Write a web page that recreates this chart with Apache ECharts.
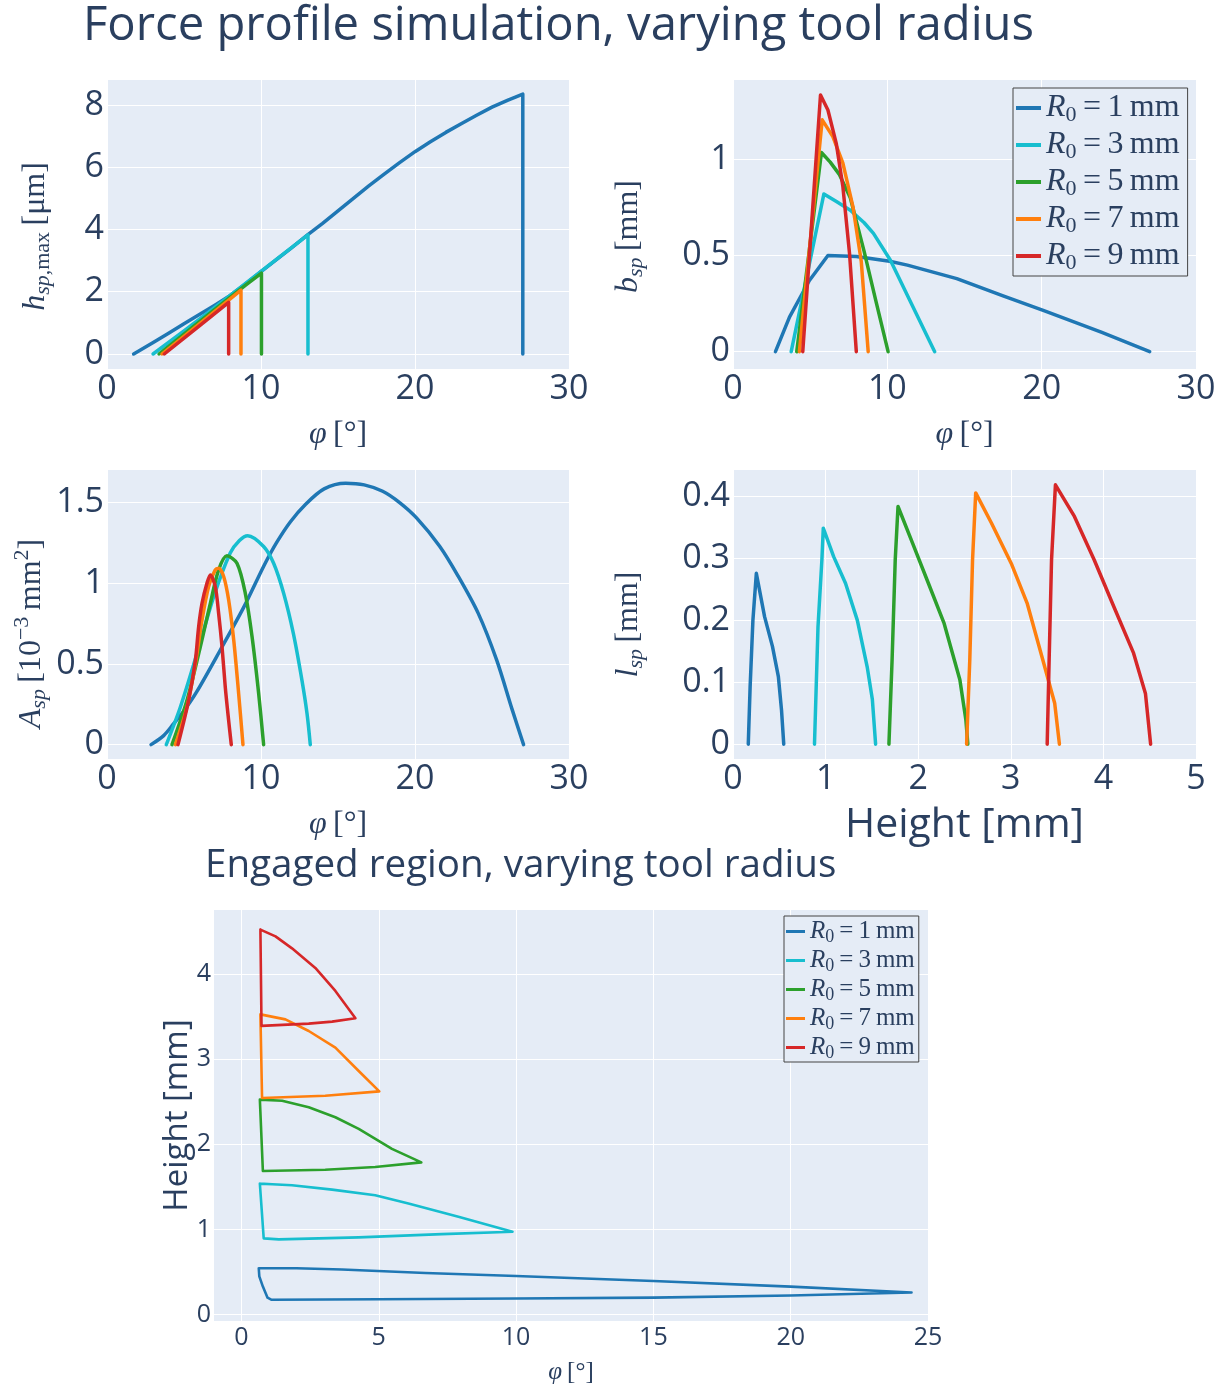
<!DOCTYPE html>
<html>
<head>
<meta charset="utf-8">
<script src="https://cdn.jsdelivr.net/npm/echarts@6/dist/echarts.min.js"></script>
<style>
  html, body { margin: 0; padding: 0; background: #ffffff; }
  #chart { width: 1227px; height: 1386px; }
</style>
</head>
<body>
<div id="chart"></div>
<script>
// ---- tool radii and trace colours ----
const radii = [1, 3, 5, 7, 9];
const traceColors = ['#1f77b4', '#17becf', '#2ca02c', '#ff7f0e', '#d62728'];

// ---- tick values ----
const phiTicks = [0, 10, 20, 30];
const hTicks = [0, 2, 4, 6, 8];
const bTicks = [0, 0.5, 1];
const aTicks = [0, 0.5, 1, 1.5];
const lTicks = [0, 0.1, 0.2, 0.3, 0.4];
const heightTicks = [0, 1, 2, 3, 4, 5];
const engPhiTicks = [0, 5, 10, 15, 20, 25];
const engHeightTicks = [0, 1, 2, 3, 4];

// ---- h_sp,max [µm] vs phi [deg] ----
const hspR1 = [[1.73,0],[3,0.37],[4,0.67],[5,0.97],[6,1.27],[7,1.57],[8,1.88],[9,2.25],[10,2.65],[11,3.03],[12,3.42],[13,3.82],[14,4.2],[15,4.6],[16,5.0],[17,5.4],[18,5.78],[19,6.15],[20,6.5],[21,6.82],[22,7.12],[23,7.4],[24,7.67],[25,7.93],[26,8.15],[27,8.35],[27,0]];
const hspR3 = [[2.99,0],[5,0.74],[7,1.5],[9,2.27],[11,3.04],[13.05,3.83],[13.05,0]];
const hspR5 = [[3.38,0],[5,0.64],[7,1.43],[9,2.21],[10.03,2.6],[10.03,0]];
const hspR7 = [[3.57,0],[6,0.97],[8.7,2.05],[8.7,0]];
const hspR9 = [[3.72,0],[6,0.905],[7.9,1.66],[7.9,0]];

// ---- b_sp [mm] vs phi [deg] ----
const bspR1 = [[2.75,0],[3.66,0.18],[4.95,0.37],[6.15,0.5],[8,0.495],[10.15,0.47],[11.3,0.45],[14.5,0.38],[17.5,0.29],[20.1,0.215],[23.9,0.1],[27,0]];
const bspR3 = [[3.77,0],[5.89,0.82],[6.7,0.78],[7.6,0.735],[8.5,0.67],[9.1,0.615],[10.2,0.475],[11.5,0.26],[13.07,0]];
const bspR5 = [[4.13,0],[5.73,1.035],[6.3,0.985],[6.9,0.92],[7.6,0.8],[8.5,0.52],[9.3,0.25],[10.05,0]];
const bspR7 = [[4.3,0],[5.78,1.205],[6.47,1.118],[7.12,0.98],[7.77,0.754],[8.31,0.47],[8.76,0]];
const bspR9 = [[4.52,0],[5.67,1.334],[6.15,1.256],[6.69,1.083],[7.12,0.858],[7.55,0.511],[7.99,0]];

// ---- A_sp [1e-3 mm^2] vs phi [deg] ----
const aspR1 = [[2.86,0],[3.68,0.056],[4.33,0.13],[5,0.21],[5.84,0.33],[7.35,0.585],[8.9,0.855],[10.2,1.11],[11,1.25],[11.9,1.38],[12.9,1.49],[14.1,1.585],[15.5,1.62],[16.7,1.61],[17.9,1.57],[19,1.5],[20.1,1.405],[21.6,1.23],[22.8,1.045],[24.1,0.815],[25.3,0.525],[26.3,0.22],[27.05,0]];
const aspR3 = [[3.85,0],[4.76,0.232],[5.84,0.564],[6.93,0.917],[8.0,1.187],[8.6,1.265],[9.14,1.295],[10.17,1.228],[10.82,1.124],[11.47,0.938],[12.1,0.689],[12.66,0.398],[12.99,0.191],[13.2,0]];
const aspR5 = [[4.22,0],[5.19,0.274],[6.06,0.606],[6.71,0.876],[7.25,1.083],[7.79,1.17],[8.44,1.124],[8.98,0.938],[9.42,0.668],[9.85,0.315],[10.17,0]];
const aspR7 = [[4.44,0],[5.19,0.232],[5.74,0.502],[6.17,0.772],[6.6,0.98],[7.03,1.083],[7.25,1.093],[7.58,1.041],[7.9,0.896],[8.23,0.647],[8.55,0.315],[8.83,0]];
const aspR9 = [[4.61,0],[5.3,0.274],[5.74,0.523],[5.95,0.73],[6.17,0.876],[6.49,1.0],[6.71,1.052],[7.03,0.98],[7.25,0.813],[7.47,0.606],[7.68,0.357],[7.9,0.149],[8.07,0]];

// ---- l_sp [mm] vs height [mm] ----
const lspR1 = [[0.165,0],[0.185,0.093],[0.215,0.2],[0.252,0.276],[0.341,0.206],[0.426,0.158],[0.49,0.109],[0.524,0.055],[0.548,0]];
const lspR3 = [[0.88,0],[0.918,0.19],[0.96,0.298],[0.975,0.349],[1.087,0.303],[1.215,0.26],[1.343,0.2],[1.449,0.125],[1.505,0.072],[1.54,0]];
const lspR5 = [[1.684,0],[1.718,0.136],[1.752,0.298],[1.782,0.384],[1.939,0.325],[2.11,0.26],[2.28,0.195],[2.45,0.104],[2.515,0.039],[2.536,0]];
const lspR7 = [[2.523,0],[2.557,0.136],[2.587,0.298],[2.621,0.406],[2.792,0.357],[3.005,0.292],[3.176,0.228],[3.346,0.136],[3.474,0.066],[3.525,0]];
const lspR9 = [[3.393,0],[3.414,0.136],[3.44,0.298],[3.482,0.419],[3.687,0.368],[3.9,0.298],[4.113,0.222],[4.326,0.147],[4.454,0.082],[4.51,0]];

// ---- engaged region outline: phi [deg], height [mm] ----
const engR1 = [[0.63,0.545],[2,0.545],[3.66,0.53],[6.7,0.49],[10,0.455],[15,0.395],[20,0.33],[24.4,0.26],[20,0.225],[15,0.2],[10,0.19],[5,0.182],[1.1,0.175],[0.95,0.2],[0.78,0.33],[0.65,0.45],[0.63,0.545]];
const engR3 = [[0.67,1.538],[1.12,1.531],[1.84,1.519],[3.3,1.468],[4.87,1.402],[6.08,1.305],[7.9,1.149],[9.87,0.974],[7.3,0.946],[4.27,0.907],[1.36,0.884],[0.81,0.896],[0.67,1.538]];
const engR5 = [[0.67,2.524],[1.48,2.512],[2.45,2.434],[3.42,2.317],[4.27,2.181],[5.48,1.947],[6.55,1.788],[4.87,1.733],[3.05,1.702],[0.78,1.686],[0.67,2.524]];
const engR7 = [[0.69,3.525],[1.6,3.466],[2.45,3.33],[3.42,3.135],[4.27,2.86],[5.02,2.621],[3.05,2.57],[0.75,2.543],[0.69,3.525]];
const engR9 = [[0.69,4.52],[1.24,4.44],[1.84,4.3],[2.69,4.07],[3.42,3.8],[4.15,3.48],[3.3,3.44],[2.45,3.416],[0.73,3.39],[0.69,4.52]];

const hspData = [hspR1, hspR3, hspR5, hspR7, hspR9];
const bspData = [bspR1, bspR3, bspR5, bspR7, bspR9];
const aspData = [aspR1, aspR3, aspR5, aspR7, aspR9];
const lspData = [lspR1, lspR3, lspR5, lspR7, lspR9];
const engData = [engR1, engR3, engR5, engR7, engR9];

// ---- styling ----
const INK = '#2a3f5f';
const SANS = '"Open Sans", "Noto Sans", sans-serif';
const SERIF = '"Liberation Serif", "DejaVu Serif", serif';
const PLOT_BG = '#e5ecf6';

// rich-text styles for math-like labels (italic symbols, sub/superscripts)
function mathRich(size) {
  const small = Math.round(size * 0.7);
  const base = { fontFamily: SERIF, color: INK };
  return {
    i:  Object.assign({}, base, { fontSize: size, fontStyle: 'italic', lineHeight: size }),
    t:  Object.assign({}, base, { fontSize: size, lineHeight: size }),
    si: Object.assign({}, base, { fontSize: small, fontStyle: 'italic', lineHeight: small, padding: [Math.round(size * 0.44), 0, 0, 0] }),
    s:  Object.assign({}, base, { fontSize: small, lineHeight: small, padding: [Math.round(size * 0.44), 0, 0, 0] }),
    p:  Object.assign({}, base, { fontSize: small, lineHeight: small, padding: [0, 0, Math.round(size * 0.6), 0] })
  };
}

const seriesName = r => 'R0=' + r + 'mm';
const legendText = name => {
  const r = name.replace('R0=', '').replace('mm', '');
  return '{i|R}{s|0}{t|\u2009=\u2009' + r + '\u2009mm}';
};

function valueAxis(gridIndex, min, max, ticks, labelSize, extra) {
  return Object.assign({
    type: 'value',
    gridIndex: gridIndex,
    min: min,
    max: max,
    axisLine: { show: false },
    axisTick: { show: false, customValues: ticks },
    axisLabel: { customValues: ticks, color: INK, fontFamily: SANS, fontSize: labelSize, margin: 3 },
    splitLine: { show: true, lineStyle: { color: '#ffffff', width: 1 } }
  }, extra || {});
}

const grids = [
  { left: 107, top: 80,  width: 462, height: 289 },
  { left: 733, top: 80,  width: 463, height: 289 },
  { left: 107, top: 470, width: 462, height: 289 },
  { left: 733, top: 470, width: 463, height: 289 },
  { left: 214, top: 910, width: 714, height: 413 }
].map(g => Object.assign({ show: true, backgroundColor: PLOT_BG, borderWidth: 0 }, g));

const phiName = size => ({
  name: '{i|φ}{t|\u2009[°]}',
  nameLocation: 'middle',
  nameTextStyle: { rich: mathRich(size) }
});

// rotated y titles; right padding moves the text down along the axis
const yName = (text, size, shift) => ({
  name: text,
  nameLocation: 'middle',
  nameTextStyle: { rich: mathRich(size), padding: [0, shift, 0, 0] }
});

const xAxes = [
  valueAxis(0, 0, 30, phiTicks, 34, Object.assign(phiName(32), { nameGap: 50 })),
  valueAxis(1, 0, 30, phiTicks, 34, Object.assign(phiName(32), { nameGap: 50 })),
  valueAxis(2, 0, 30, phiTicks, 34, Object.assign(phiName(32), { nameGap: 50 })),
  valueAxis(3, 0, 5, heightTicks, 34, {
    name: 'Height [mm]', nameLocation: 'middle', nameGap: 46,
    nameTextStyle: { fontFamily: SANS, fontSize: 41, color: INK }
  }),
  valueAxis(4, -1, 25, engPhiTicks, 25, Object.assign(phiName(25), { nameGap: 39 }))
];
xAxes[4].axisLabel.margin = 4;

const yAxes = [
  valueAxis(0, -0.482, 8.803, hTicks, 34,
    Object.assign(yName('{i|h}{si|sp}{s|,max}{t|\u2009[μm]}', 32, 24), { nameGap: 55 })),
  valueAxis(1, -0.09, 1.412, bTicks, 34,
    Object.assign(yName('{i|b}{si|sp}{t|\u2009[mm]}', 32, 24), { nameGap: 88 })),
  valueAxis(2, -0.089, 1.702, aTicks, 34,
    Object.assign(yName('{i|A}{si|sp}{t|\u2009[10}{p|−3}{t|\u2009mm}{p|2}{t|]}', 32, 38), { nameGap: 58 })),
  valueAxis(3, -0.024, 0.443, lTicks, 34,
    Object.assign(yName('{i|l}{si|sp}{t|\u2009[mm]}', 32, 20), { nameGap: 88 })),
  valueAxis(4, -0.074, 4.75, engHeightTicks, 25, {
    name: 'Height [mm]', nameLocation: 'middle', nameGap: 20, nameMoveOverlap: false,
    nameTextStyle: { fontFamily: SANS, fontSize: 33, color: INK }
  })
];

const series = [];
function addPanel(dataSets, axisIndex, width, smooth) {
  dataSets.forEach((d, k) => {
    series.push({
      type: 'line',
      name: seriesName(radii[k]),
      xAxisIndex: axisIndex,
      yAxisIndex: axisIndex,
      data: d,
      symbol: 'none',
      showSymbol: false,
      smooth: smooth,
      color: traceColors[k],
      lineStyle: { color: traceColors[k], width: width, cap: 'round', join: 'round' }
    });
  });
}
addPanel(hspData, 0, 3.5, false);
addPanel(bspData, 1, 3.5, false);
addPanel(aspData, 2, 3.5, 0.3);
addPanel(lspData, 3, 3.5, false);
addPanel(engData, 4, 2.6, false);

const legendNames = radii.map(seriesName);

const option = {
  animation: false,
  backgroundColor: '#ffffff',
  title: [
    {
      text: 'Force profile simulation, varying tool radius',
      left: 83, top: 3, padding: 0,
      textStyle: { fontFamily: SANS, fontSize: 47.2, fontWeight: 'normal', color: INK }
    },
    {
      text: 'Engaged region, varying tool radius',
      left: 205, top: 847, padding: 0,
      textStyle: { fontFamily: SANS, fontSize: 38.6, fontWeight: 'normal', color: INK }
    }
  ],
  legend: [
    {
      data: legendNames,
      orient: 'vertical',
      left: 1013, top: 88,
      padding: [2, 8, 2, 3],
      itemGap: 1,
      itemWidth: 25, itemHeight: 4,
      icon: 'rect',
      backgroundColor: PLOT_BG,
      borderColor: '#444444', borderWidth: 1,
      formatter: legendText,
      textStyle: { rich: mathRich(32) }
    },
    {
      data: legendNames,
      orient: 'vertical',
      left: 784, top: 916,
      padding: [1, 4, 0, 2],
      itemGap: 0,
      itemWidth: 19, itemHeight: 3,
      icon: 'rect',
      backgroundColor: PLOT_BG,
      borderColor: '#444444', borderWidth: 1,
      formatter: legendText,
      textStyle: { rich: mathRich(25) }
    }
  ],
  grid: grids,
  xAxis: xAxes,
  yAxis: yAxes,
  series: series
};

const chart = echarts.init(document.getElementById('chart'), null, { renderer: 'canvas' });
chart.setOption(option);
</script>
</body>
</html>
